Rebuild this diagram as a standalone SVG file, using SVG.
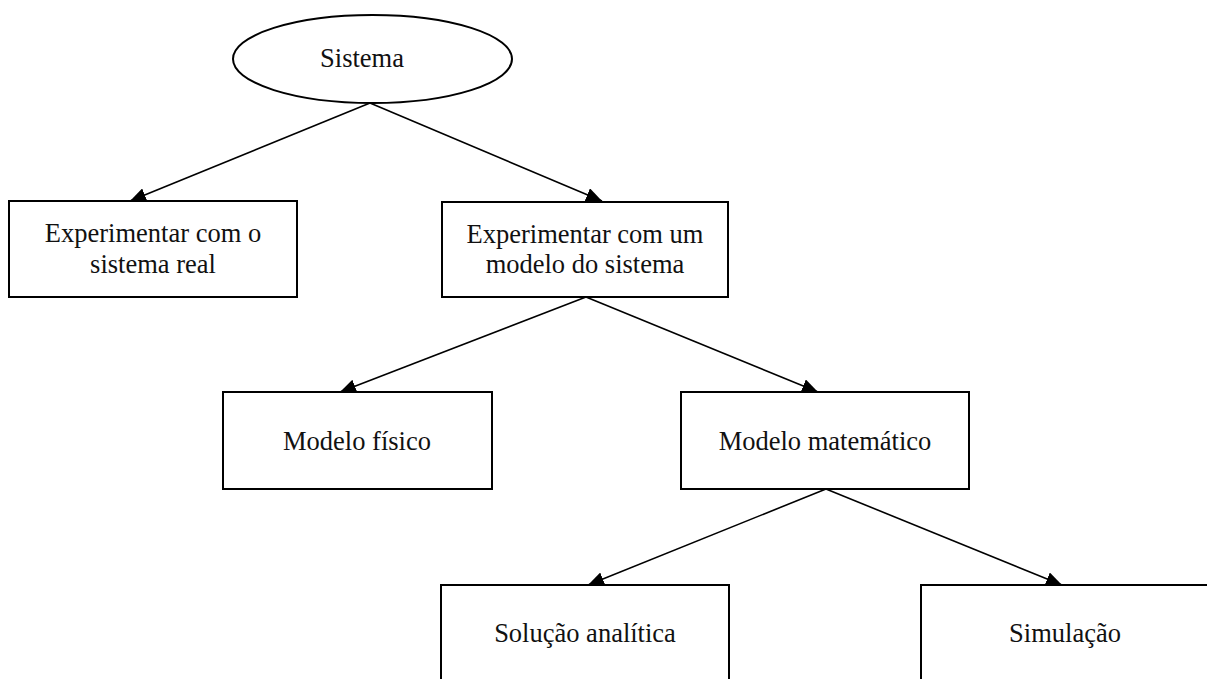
<svg xmlns="http://www.w3.org/2000/svg" width="1207" height="679" viewBox="0 0 1207 679">
<style>
.node{fill:#fff;stroke:#000;stroke-width:2}
.lbl{font-family:'Liberation Serif','Tinos','DejaVu Serif',serif;font-size:26.5px;fill:#111;text-anchor:middle}
.edge{stroke:#000;stroke-width:1.6;fill:none;marker-end:url(#ah)}
</style>
<defs>
<marker id="ah" markerUnits="userSpaceOnUse" markerWidth="18" markerHeight="14" refX="16" refY="7" orient="auto">
<path d="M0,0 L16,7 L0,14 Z" fill="#000"/>
</marker>
</defs>
<rect width="1207" height="679" fill="#fff"/>
<g id="connectors">
<line class="edge" x1="370" y1="103" x2="130" y2="201"/>
<line class="edge" x1="370" y1="103" x2="602" y2="201"/>
<line class="edge" x1="586" y1="297" x2="340" y2="392"/>
<line class="edge" x1="586" y1="297" x2="818" y2="392"/>
<line class="edge" x1="826" y1="489" x2="588" y2="585"/>
<line class="edge" x1="826" y1="489" x2="1062" y2="585"/>
</g>
<g id="sistema">
<ellipse class="node" cx="372.5" cy="59" rx="139.5" ry="44"/>
<text class="lbl" x="362" y="67" font-family="Liberation Serif, serif">Sistema</text>
</g>
<g id="real">
<rect class="node" x="9" y="201" width="288" height="96"/>
<text class="lbl" x="153" y="242" font-family="Liberation Serif, serif">Experimentar com o</text>
<text class="lbl" x="153" y="273" font-family="Liberation Serif, serif">sistema real</text>
</g>
<g id="modelo">
<rect class="node" x="442" y="202" width="286" height="95"/>
<text class="lbl" x="585" y="243" font-family="Liberation Serif, serif">Experimentar com um</text>
<text class="lbl" x="585" y="273" font-family="Liberation Serif, serif">modelo do sistema</text>
</g>
<g id="fisico">
<rect class="node" x="223" y="392" width="269" height="97"/>
<text class="lbl" x="357" y="450" font-family="Liberation Serif, serif">Modelo físico</text>
</g>
<g id="matematico">
<rect class="node" x="681" y="392" width="288" height="97"/>
<text class="lbl" x="825" y="450" font-family="Liberation Serif, serif">Modelo matemático</text>
</g>
<g id="analitica">
<rect class="node" x="441" y="585" width="288" height="110"/>
<text class="lbl" x="585" y="642" font-family="Liberation Serif, serif">Solução analítica</text>
</g>
<g id="simulacao">
<rect class="node" x="921" y="585" width="288" height="110"/>
<text class="lbl" x="1065" y="642" font-family="Liberation Serif, serif">Simulação</text>
</g>
</svg>
